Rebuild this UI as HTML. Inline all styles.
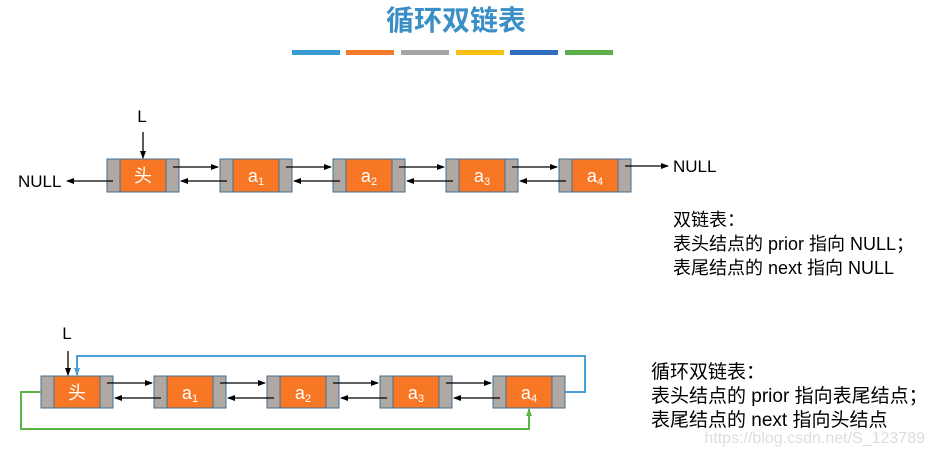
<!DOCTYPE html><html><head><meta charset="utf-8"><style>
body{margin:0;width:936px;height:456px;background:#fff;overflow:hidden;font-family:"Liberation Sans","Noto Sans CJK SC",sans-serif}
svg{position:absolute;left:0;top:0}
.t{position:absolute;color:#000;line-height:24px;white-space:nowrap}
</style></head><body>
<svg width="936" height="456" xmlns="http://www.w3.org/2000/svg" font-family="Liberation Sans, Noto Sans CJK SC, sans-serif">
<defs><marker id="a" markerWidth="8" markerHeight="8" refX="7" refY="4" orient="auto" markerUnits="userSpaceOnUse"><path d="M0,1 L8,4 L0,7z" fill="#000"/></marker>
<marker id="b" markerWidth="8" markerHeight="8" refX="7" refY="4" orient="auto" markerUnits="userSpaceOnUse"><path d="M0,1 L8,4 L0,7z" fill="#4a9fd6"/></marker>
<marker id="g" markerWidth="8" markerHeight="8" refX="7" refY="4" orient="auto" markerUnits="userSpaceOnUse"><path d="M0,1 L8,4 L0,7z" fill="#5cb545"/></marker></defs>
<text x="456" y="30" font-size="28" font-weight="bold" fill="#3a8fc7" text-anchor="middle">循环双链表</text>
<rect x="292" y="50" width="48" height="5" fill="#3a9bd5"/><rect x="346" y="50" width="48" height="5" fill="#f47b2a"/><rect x="401" y="50" width="48" height="5" fill="#a5a5a5"/><rect x="456" y="50" width="48" height="5" fill="#fbbf10"/><rect x="510" y="50" width="48" height="5" fill="#2e6fc0"/><rect x="565" y="50" width="48" height="5" fill="#5aaf4a"/>
<g stroke="#3f6f94" stroke-width="1">
<rect x="107" y="159" width="13" height="33" fill="#b0a8a3"/><rect x="120" y="159" width="46" height="33" fill="#f87725"/><rect x="166" y="159" width="13" height="33" fill="#b0a8a3"/>
<rect x="220" y="159" width="13" height="33" fill="#b0a8a3"/><rect x="233" y="159" width="46" height="33" fill="#f87725"/><rect x="279" y="159" width="13" height="33" fill="#b0a8a3"/>
<rect x="333" y="159" width="13" height="33" fill="#b0a8a3"/><rect x="346" y="159" width="46" height="33" fill="#f87725"/><rect x="392" y="159" width="13" height="33" fill="#b0a8a3"/>
<rect x="446" y="159" width="13" height="33" fill="#b0a8a3"/><rect x="459" y="159" width="46" height="33" fill="#f87725"/><rect x="505" y="159" width="13" height="33" fill="#b0a8a3"/>
<rect x="559" y="159" width="13" height="33" fill="#b0a8a3"/><rect x="572" y="159" width="46" height="33" fill="#f87725"/><rect x="618" y="159" width="13" height="33" fill="#b0a8a3"/>
</g>
<g fill="#fff" font-size="18" text-anchor="middle">
<text x="143" y="182">头</text><text x="256" y="182">a<tspan font-size="11" dy="3">1</tspan></text><text x="369" y="182">a<tspan font-size="11" dy="3">2</tspan></text><text x="482" y="182">a<tspan font-size="11" dy="3">3</tspan></text><text x="595" y="182">a<tspan font-size="11" dy="3">4</tspan></text>
</g>
<g stroke="#000" stroke-width="1.3" marker-end="url(#a)">
<line x1="173" y1="167" x2="218" y2="167"/><line x1="227" y1="181" x2="181" y2="181"/>
<line x1="286" y1="167" x2="331" y2="167"/><line x1="340" y1="181" x2="294" y2="181"/>
<line x1="399" y1="167" x2="444" y2="167"/><line x1="453" y1="181" x2="407" y2="181"/>
<line x1="512" y1="167" x2="557" y2="167"/><line x1="566" y1="181" x2="520" y2="181"/>
<line x1="625" y1="166" x2="668" y2="166"/><line x1="113" y1="181" x2="67" y2="181"/>
<line x1="143" y1="132" x2="143" y2="158"/>
</g>
<text x="142" y="122" font-size="17" text-anchor="middle">L</text>
<text x="18" y="187" font-size="17">NULL</text>
<text x="673" y="172" font-size="17">NULL</text>
<g stroke="#3f6f94" stroke-width="1">
<rect x="41" y="376" width="13" height="32" fill="#b0a8a3"/><rect x="54" y="376" width="46" height="32" fill="#f87725"/><rect x="100" y="376" width="13" height="32" fill="#b0a8a3"/>
<rect x="154" y="376" width="13" height="32" fill="#b0a8a3"/><rect x="167" y="376" width="46" height="32" fill="#f87725"/><rect x="213" y="376" width="13" height="32" fill="#b0a8a3"/>
<rect x="267" y="376" width="13" height="32" fill="#b0a8a3"/><rect x="280" y="376" width="46" height="32" fill="#f87725"/><rect x="326" y="376" width="13" height="32" fill="#b0a8a3"/>
<rect x="380" y="376" width="13" height="32" fill="#b0a8a3"/><rect x="393" y="376" width="46" height="32" fill="#f87725"/><rect x="439" y="376" width="13" height="32" fill="#b0a8a3"/>
<rect x="493" y="376" width="13" height="32" fill="#b0a8a3"/><rect x="506" y="376" width="46" height="32" fill="#f87725"/><rect x="552" y="376" width="13" height="32" fill="#b0a8a3"/>
</g>
<g fill="#fff" font-size="18" text-anchor="middle">
<text x="77" y="399">头</text><text x="190" y="399">a<tspan font-size="11" dy="3">1</tspan></text><text x="303" y="399">a<tspan font-size="11" dy="3">2</tspan></text><text x="416" y="399">a<tspan font-size="11" dy="3">3</tspan></text><text x="529" y="399">a<tspan font-size="11" dy="3">4</tspan></text>
</g>
<g stroke="#000" stroke-width="1.3" marker-end="url(#a)">
<line x1="107" y1="383" x2="152" y2="383"/><line x1="161" y1="398" x2="115" y2="398"/>
<line x1="220" y1="383" x2="265" y2="383"/><line x1="274" y1="398" x2="228" y2="398"/>
<line x1="333" y1="383" x2="378" y2="383"/><line x1="387" y1="398" x2="341" y2="398"/>
<line x1="446" y1="383" x2="491" y2="383"/><line x1="500" y1="398" x2="454" y2="398"/>
<line x1="68" y1="351" x2="68" y2="375"/>
</g>
<text x="67" y="339" font-size="17" text-anchor="middle">L</text>
<polyline points="565,392 585,392 585,356 77,356 77,375" fill="none" stroke="#4a9fd6" stroke-width="2" marker-end="url(#b)"/>
<polyline points="41,392 21,392 21,429 529,429 529,409" fill="none" stroke="#5cb545" stroke-width="2" marker-end="url(#g)"/>
<text x="925" y="443" font-size="16" fill="#ddd" text-anchor="end">https://blog.csdn.net/S_123789</text>
</svg>
<div class="t" style="left:673px;top:208px;font-size:18px">双链表：<br>表头结点的 prior 指向 NULL；<br>表尾结点的 next 指向 NULL</div>
<div class="t" style="left:651px;top:361px;font-size:19px">循环双链表：<br>表头结点的 prior 指向表尾结点；<br>表尾结点的 next 指向头结点</div>
</body></html>
